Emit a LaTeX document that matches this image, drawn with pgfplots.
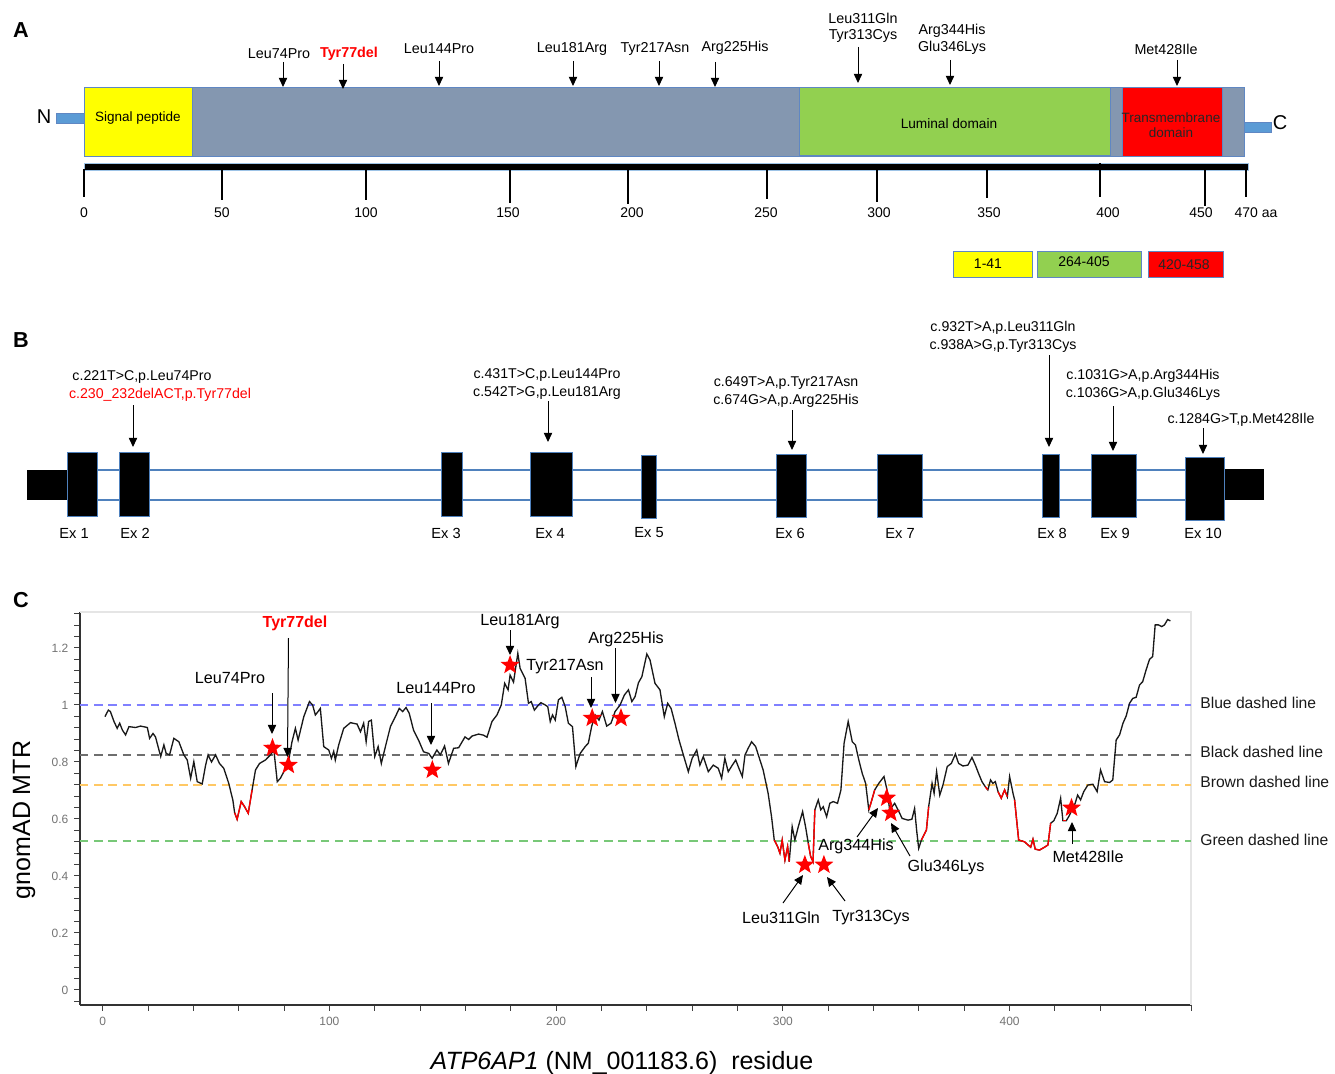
\documentclass[border=0pt]{standalone}
\usepackage{fontspec}
\setmainfont{Liberation Sans}
\usepackage{pgfplots}
\pgfplotsset{compat=1.18}
\usepackage{pgfplotstable}
\usetikzlibrary{arrows.meta}

\definecolor{protgray}{RGB}{132,151,176}
\definecolor{protedge}{RGB}{95,135,195}
\definecolor{tailblue}{RGB}{91,155,213}
\definecolor{sigyellow}{RGB}{255,255,0}
\definecolor{lumgreen}{RGB}{146,208,80}
\definecolor{tmred}{RGB}{255,0,0}
\definecolor{intronblue}{RGB}{79,129,189}
\definecolor{dblue}{RGB}{128,128,255}
\definecolor{dblack}{RGB}{110,110,110}
\definecolor{dbrown}{RGB}{255,200,100}
\definecolor{dgreen}{RGB}{120,200,120}

\pgfdeclareplotmark{fstar}{%
  \pgfpathmoveto{\pgfpointpolar{90}{\pgfplotmarksize}}%
  \pgfpathlineto{\pgfpointpolar{126}{0.42\pgfplotmarksize}}%
  \pgfpathlineto{\pgfpointpolar{162}{\pgfplotmarksize}}%
  \pgfpathlineto{\pgfpointpolar{198}{0.42\pgfplotmarksize}}%
  \pgfpathlineto{\pgfpointpolar{234}{\pgfplotmarksize}}%
  \pgfpathlineto{\pgfpointpolar{270}{0.42\pgfplotmarksize}}%
  \pgfpathlineto{\pgfpointpolar{306}{\pgfplotmarksize}}%
  \pgfpathlineto{\pgfpointpolar{342}{0.42\pgfplotmarksize}}%
  \pgfpathlineto{\pgfpointpolar{18}{\pgfplotmarksize}}%
  \pgfpathlineto{\pgfpointpolar{54}{0.42\pgfplotmarksize}}%
  \pgfpathclose
  \pgfusepathqfill}

\newcommand{\fs}[1]{\fontsize{#1}{#1}\selectfont}
\tikzset{arr/.style={-{Triangle[length=5.5pt,width=5pt]}, line width=0.6pt}}

\pgfplotstableread{
x y
1.0 0.959
2.5 0.982
3.4 0.977
5.0 0.942
6.4 0.918
7.5 0.936
8.7 0.912
10.1 0.895
11.6 0.924
14.5 0.921
16.7 0.926
19.7 0.921
20.7 0.883
22.2 0.900
23.3 0.888
25.6 0.819
27.0 0.860
28.0 0.830
29.5 0.825
31.4 0.883
33.6 0.871
35.8 0.825
37.3 0.807
38.8 0.743
40.2 0.801
41.7 0.731
43.9 0.723
45.4 0.789
46.5 0.825
48.0 0.800
49.8 0.825
51.5 0.795
53.4 0.778
55.6 0.725
57.4 0.667
58.2 0.622
59.3 0.599
61.1 0.661
62.6 0.643
64.2 0.620
65.9 0.702
67.4 0.772
69.2 0.795
71.8 0.807
74.0 0.825
75.5 0.842
77.0 0.731
78.4 0.743
79.9 0.766
81.8 0.795
83.5 0.871
85.0 0.918
86.2 0.877
88.7 0.959
91.2 1.012
92.6 1.000
93.8 0.965
95.0 0.977
96.0 0.988
97.5 0.854
99.7 0.842
100.9 0.813
101.9 0.837
102.6 0.807
104.1 0.860
106.3 0.918
109.3 0.938
112.2 0.933
113.7 0.906
115.1 0.936
116.2 0.871
117.3 0.942
118.5 0.947
120.0 0.819
121.5 0.854
122.9 0.795
124.7 0.854
126.9 0.924
129.1 0.959
130.8 0.988
132.3 0.977
133.8 0.991
135.2 0.971
137.1 0.912
139.3 0.877
141.5 0.836
143.8 0.830
145.3 0.813
147.4 0.842
148.9 0.825
150.8 0.856
152.5 0.795
154.8 0.848
157.0 0.850
159.8 0.888
161.4 0.879
162.9 0.891
165.8 0.898
168.0 0.894
169.5 0.887
171.7 0.942
173.9 0.965
175.8 1.000
177.3 1.076
178.8 1.053
179.7 1.105
181.2 1.080
183.1 1.181
184.1 1.129
186.3 1.094
187.8 1.006
189.0 1.012
190.4 0.982
192.2 1.000
193.3 1.008
195.2 1.000
196.3 0.994
197.4 0.942
198.4 0.965
199.6 0.947
201.0 1.018
202.5 1.027
204.0 0.994
205.4 0.936
207.2 0.924
208.7 0.784
210.6 0.830
212.8 0.854
214.2 0.866
215.7 0.926
217.2 0.965
218.9 0.947
220.4 0.977
222.3 0.926
224.2 0.936
226.0 0.977
228.2 1.000
230.1 1.035
231.9 1.053
233.4 1.012
234.8 1.029
236.3 1.078
237.8 1.099
240.0 1.179
241.4 1.158
243.6 1.076
245.8 1.053
247.7 0.959
249.2 1.006
250.7 0.988
252.4 0.936
254.2 0.877
256.1 0.825
258.3 0.766
260.0 0.813
262.0 0.842
263.4 0.789
264.9 0.819
267.1 0.766
269.3 0.789
271.5 0.778
273.0 0.743
274.4 0.813
275.9 0.766
277.7 0.789
279.2 0.807
280.6 0.778
282.1 0.749
283.3 0.825
284.7 0.848
286.2 0.871
288.0 0.854
289.4 0.819
291.3 0.772
293.5 0.690
295.0 0.608
296.2 0.526
297.7 0.503
298.7 0.480
299.7 0.526
300.9 0.456
302.1 0.503
302.8 0.450
304.1 0.573
305.3 0.526
306.8 0.573
308.7 0.626
310.0 0.573
311.2 0.515
312.2 0.470
313.3 0.450
314.1 0.632
315.6 0.667
316.7 0.632
317.8 0.643
319.3 0.608
320.7 0.655
322.2 0.661
324.1 0.655
325.6 0.702
327.0 0.866
328.8 0.942
330.6 0.871
332.0 0.860
333.5 0.807
335.0 0.760
336.5 0.725
337.9 0.632
338.8 0.655
340.5 0.702
342.3 0.725
344.6 0.749
346.0 0.700
347.1 0.632
349.3 0.655
350.8 0.632
352.6 0.602
355.2 0.596
356.9 0.599
358.1 0.637
359.0 0.560
359.9 0.497
361.1 0.526
363.3 0.561
364.3 0.643
365.8 0.725
366.7 0.690
367.8 0.766
369.2 0.684
370.6 0.719
372.5 0.784
374.3 0.795
376.1 0.828
377.5 0.795
379.4 0.786
381.6 0.789
383.4 0.816
384.9 0.789
386.3 0.760
387.8 0.731
389.3 0.713
390.4 0.702
391.6 0.737
392.6 0.725
393.7 0.731
394.9 0.696
396.3 0.673
397.8 0.702
399.0 0.678
400.0 0.749
401.5 0.690
402.2 0.667
404.0 0.526
406.6 0.520
408.1 0.509
409.3 0.501
410.3 0.529
411.3 0.494
413.2 0.491
415.4 0.501
416.9 0.509
418.1 0.585
419.5 0.594
421.0 0.620
422.5 0.673
423.5 0.594
425.0 0.594
426.2 0.610
428.9 0.655
430.0 0.684
431.3 0.667
432.7 0.696
434.5 0.719
436.7 0.722
438.6 0.696
440.1 0.772
441.9 0.731
444.1 0.728
445.5 0.737
447.0 0.877
448.5 0.895
450.0 0.936
451.4 0.961
452.9 1.006
454.3 1.023
455.8 1.027
457.3 1.070
458.7 1.082
460.2 1.123
461.7 1.160
463.1 1.170
464.2 1.281
465.6 1.281
467.1 1.275
468.3 1.281
469.7 1.300
470.9 1.295
}\mtr

\pgfplotstableread{
x y
74.9 0.849
81.9 0.789
145.4 0.772
179.7 1.140
215.9 0.954
228.6 0.954
309.7 0.439
318.1 0.439
345.8 0.674
347.6 0.621
427.3 0.639
}\stars

\begin{document}
\begin{tikzpicture}[x=1pt,y=1pt]
\path[use as bounding box] (0,0) rectangle (801,644.4);

% ---------------- Panel C: MTR plot ----------------
\begin{axis}[
  at={(48pt,41.4pt)}, anchor=south west, scale only axis,
  width=666.6pt, height=235.8pt,
  xmin=-10, xmax=480, ymin=-0.0526, ymax=1.3263,
  axis x line*=bottom, axis y line*=left,
  axis line style={black!80, line width=0.7pt},
  xtick={0,100,200,300,400}, xticklabels={0,100,200,300,400},
  minor xtick={20,40,60,80,120,140,160,180,220,240,260,280,320,340,360,380,420,440,460,480},
  ytick={0,0.2,0.4,0.6,0.8,1,1.2}, yticklabels={0,0.2,0.4,0.6,0.8,1,1.2},
  minor ytick={-0.04,0.04,0.08,0.12,0.16,0.24,0.28,0.32,0.36,0.44,0.48,0.52,0.56,0.64,0.68,0.72,0.76,0.84,0.88,0.92,0.96,1.04,1.08,1.12,1.16,1.24,1.28,1.32},
  tick align=outside, major tick length=3.5pt, minor tick length=3.5pt,
  tick style={black!75, line width=0.6pt},
  tick label style={font=\fs{7.2}, text=black!55},
  /pgf/number format/assume math mode=true,
  clip=false,
]
\draw[black!10, line width=0.7pt] (rel axis cs:0,1) -- (rel axis cs:1,1) -- (rel axis cs:1,0);
\addplot[dblue, line width=0.9pt, dash pattern=on 5pt off 3.5pt] coordinates {(-10,1) (480,1)};
\addplot[dblack, line width=0.9pt, dash pattern=on 5pt off 3.5pt] coordinates {(-10,0.825) (480,0.825)};
\addplot[dbrown, line width=0.9pt, dash pattern=on 5pt off 3.5pt] coordinates {(-10,0.72) (480,0.72)};
\addplot[dgreen, line width=0.9pt, dash pattern=on 5pt off 3.5pt] coordinates {(-10,0.523) (480,0.523)};
\addplot[black!90, line width=0.8pt, no marks] table {\mtr};
\addplot[red, line width=0.8pt, no marks, restrict x to domain=57.8:66] table {\mtr};
\addplot[red, line width=0.8pt, no marks, restrict x to domain=296:303] table {\mtr};
\addplot[red, line width=0.8pt, no marks, restrict x to domain=311:314.5] table {\mtr};
\addplot[red, line width=0.8pt, no marks, restrict x to domain=337.5:341] table {\mtr};
\addplot[red, line width=0.8pt, no marks, restrict x to domain=360:364.5] table {\mtr};
\addplot[red, line width=0.8pt, no marks, restrict x to domain=389:391] table {\mtr};
\addplot[red, line width=0.8pt, no marks, restrict x to domain=394:399.5] table {\mtr};
\addplot[red, line width=0.8pt, no marks, restrict x to domain=402:418.2] table {\mtr};
\addplot[red, line width=0.8pt, no marks, restrict x to domain=423.3:426] table {\mtr};
\addplot[only marks, mark=fstar, mark size=6pt, mark options={fill=red, draw=none}, red] table {\stars};
\end{axis}

% ---------------- Overlay: panels A, B and annotations (pixel coordinates) ----------------
\begin{axis}[
  at={(0pt,0pt)}, anchor=south west, scale only axis,
  width=801pt, height=644.4pt,
  xmin=0, xmax=1335, ymin=0, ymax=1074, y dir=reverse,
  hide axis, clip=false,
]
% panel letters
\node[font=\fs{13}\bfseries] at (21,30) {A};
\node[font=\fs{13}\bfseries] at (21,340) {B};
\node[font=\fs{13}\bfseries] at (21,600) {C};

% ===== Panel A =====
\filldraw[fill=tailblue, draw=protedge, line width=0.4pt] (56,113) rectangle (84,123);
\filldraw[fill=protgray, draw=protedge, line width=0.6pt] (84,88) rectangle (1244,157);
\filldraw[fill=sigyellow, draw=protedge, line width=0.6pt] (84,88) rectangle (192,157);
\filldraw[fill=lumgreen, draw=protedge, line width=0.6pt] (799,88) rectangle (1110,156);
\filldraw[fill=tmred, draw=protedge, line width=0.6pt] (1122,88) rectangle (1222,157);
\filldraw[fill=tailblue, draw=protedge, line width=0.4pt] (1244,122) rectangle (1271,132);
\node[font=\fs{12}] at (44,117) {N};
\node[font=\fs{12}] at (1280,123) {C};
\node[font=\fs{8.1}] at (138,118) {Signal peptide};
\node[font=\fs{8.2}] at (949,124) {Luminal domain};
\node[font=\fs{8.1}, text=black!85] at (1171,118) {Transmembrane};
\node[font=\fs{8.1}, text=black!85] at (1171,133) {domain};

% ruler
\filldraw[fill=black, draw=tailblue!60, line width=0.5pt] (84,163) rectangle (1248,170);
\draw[black, line width=0.7pt] (84,169) -- (84,197);
\draw[black, line width=0.7pt] (222,169) -- (222,200);
\draw[black, line width=0.7pt] (366,169) -- (366,200);
\draw[black, line width=0.7pt] (510,169) -- (510,203);
\draw[black, line width=0.7pt] (628,169) -- (628,204);
\draw[black, line width=0.7pt] (767,169) -- (767,199);
\draw[black, line width=0.7pt] (877,169) -- (877,202);
\draw[black, line width=0.7pt] (987,169) -- (987,198);
\draw[black, line width=0.7pt] (1100,163) -- (1100,197);
\draw[black, line width=0.7pt] (1205,169) -- (1205,206);
\draw[black, line width=0.7pt] (1246,169) -- (1246,197);
\node[font=\fs{8.4}] at (84,213) {0};
\node[font=\fs{8.4}] at (222,213) {50};
\node[font=\fs{8.4}] at (366,213) {100};
\node[font=\fs{8.4}] at (508,213) {150};
\node[font=\fs{8.4}] at (632,213) {200};
\node[font=\fs{8.4}] at (766,213) {250};
\node[font=\fs{8.4}] at (879,213) {300};
\node[font=\fs{8.4}] at (989,213) {350};
\node[font=\fs{8.4}] at (1108,213) {400};
\node[font=\fs{8.4}] at (1201,213) {450};
\node[font=\fs{8.4}] at (1256,213) {470 aa};

% mutation labels A
\node[font=\fs{8.6}] at (279,54) {Leu74Pro};
\node[font=\fs{8.6}\bfseries, text=red] at (349,54) {Tyr77del};
\node[font=\fs{8.6}] at (439,49) {Leu144Pro};
\node[font=\fs{8.6}] at (572,49) {Leu181Arg};
\node[font=\fs{8.6}] at (655,49) {Tyr217Asn};
\node[font=\fs{8.6}] at (735,48) {Arg225His};
\node[font=\fs{8.6}] at (863,18) {Leu311Gln};
\node[font=\fs{8.6}] at (863,36) {Tyr313Cys};
\node[font=\fs{8.6}] at (952,31) {Arg344His};
\node[font=\fs{8.6}] at (952,48) {Glu346Lys};
\node[font=\fs{8.6}] at (1166,49) {Met428Ile};
\draw[arr] (283,62) -- (283,87);
\draw[arr] (343,64) -- (343,89);
\draw[arr] (439,61) -- (439,86);
\draw[arr] (573,61) -- (573,86);
\draw[arr] (659,61) -- (659,86);
\draw[arr] (715,62) -- (715,87);
\draw[arr] (858,47) -- (858,83);
\draw[arr] (950,60) -- (950,85);
\draw[arr] (1177,60) -- (1177,86);

% domain legend boxes
\filldraw[fill=sigyellow, draw=protedge, line width=0.6pt] (953,251) rectangle (1032,277);
\filldraw[fill=lumgreen, draw=protedge, line width=0.6pt] (1037,251) rectangle (1141,277);
\filldraw[fill=tmred, draw=protedge, line width=0.6pt] (1148,251) rectangle (1223,277);
\node[font=\fs{8.4}] at (988,264) {1-41};
\node[font=\fs{8.4}] at (1084,262) {264-405};
\node[font=\fs{8.4}, text=black!85] at (1184,265) {420-458};

% ===== Panel B =====
\draw[intronblue, line width=0.7pt] (97,470) -- (1185,470);
\draw[intronblue, line width=0.7pt] (97,500) -- (1185,500);
\fill[black] (27,470) rectangle (67,500);
\fill[black] (1224,469) rectangle (1264,500);
\filldraw[fill=black, draw=intronblue, line width=0.5pt] (67,452) rectangle (97,516);
\filldraw[fill=black, draw=intronblue, line width=0.5pt] (119,452) rectangle (149,516);
\filldraw[fill=black, draw=intronblue, line width=0.5pt] (441,452) rectangle (462,516);
\filldraw[fill=black, draw=intronblue, line width=0.5pt] (530,452) rectangle (572,516);
\filldraw[fill=black, draw=intronblue, line width=0.5pt] (641,455) rectangle (656,518);
\filldraw[fill=black, draw=intronblue, line width=0.5pt] (776,454) rectangle (806,517);
\filldraw[fill=black, draw=intronblue, line width=0.5pt] (877,454) rectangle (922,517);
\filldraw[fill=black, draw=intronblue, line width=0.5pt] (1042,454) rectangle (1059,517);
\filldraw[fill=black, draw=intronblue, line width=0.5pt] (1091,454) rectangle (1136,517);
\filldraw[fill=black, draw=intronblue, line width=0.5pt] (1185,457) rectangle (1224,520);
\node[font=\fs{8.8}] at (74,533) {Ex 1};
\node[font=\fs{8.8}] at (135,533) {Ex 2};
\node[font=\fs{8.8}] at (446,533) {Ex 3};
\node[font=\fs{8.8}] at (550,533) {Ex 4};
\node[font=\fs{8.8}] at (649,533) {Ex 5};
\node[font=\fs{8.8}] at (790,533) {Ex 6};
\node[font=\fs{8.8}] at (900,533) {Ex 7};
\node[font=\fs{8.8}] at (1052,533) {Ex 8};
\node[font=\fs{8.8}] at (1115,533) {Ex 9};
\node[font=\fs{8.8}] at (1203,533) {Ex 10};

\node[font=\fs{8.5}] at (142,377) {c.221T>C,p.Leu74Pro};
\node[font=\fs{8.5}, text=red] at (160,395) {c.230\_232delACT,p.Tyr77del};
\draw[arr] (133,405) -- (133,447);
\node[font=\fs{8.5}] at (547,375) {c.431T>C,p.Leu144Pro};
\node[font=\fs{8.5}] at (547,393) {c.542T>G,p.Leu181Arg};
\draw[arr] (548,401) -- (548,442);
\node[font=\fs{8.5}] at (786,383) {c.649T>A,p.Tyr217Asn};
\node[font=\fs{8.5}] at (786,401) {c.674G>A,p.Arg225His};
\draw[arr] (792,410) -- (792,450);
\node[font=\fs{8.5}] at (1003,328) {c.932T>A,p.Leu311Gln};
\node[font=\fs{8.5}] at (1003,346) {c.938A>G,p.Tyr313Cys};
\draw[arr] (1049,355) -- (1049,447);
\node[font=\fs{8.5}] at (1143,376) {c.1031G>A,p.Arg344His};
\node[font=\fs{8.5}] at (1143,394) {c.1036G>A,p.Glu346Lys};
\draw[arr] (1113,406) -- (1113,451);
\node[font=\fs{8.5}] at (1241,420) {c.1284G>T,p.Met428Ile};
\draw[arr] (1203,428) -- (1203,454);

% ===== Panel C annotations =====
\node[font=\fs{15}, rotate=90] at (24,820) {gnomAD MTR};
\node[font=\fs{15}, anchor=base] at (622,1069) {\textit{ATP6AP1} (NM\_001183.6)\ \ residue};

\node[font=\fs{9.4}, anchor=west, inner sep=0pt, text=black!90] at (1200,703) {Blue dashed line};
\node[font=\fs{9.4}, anchor=west, inner sep=0pt, text=black!90] at (1200,752) {Black dashed line};
\node[font=\fs{9.4}, anchor=west, inner sep=0pt, text=black!90] at (1200,782) {Brown dashed line};
\node[font=\fs{9.4}, anchor=west, inner sep=0pt, text=black!90] at (1200,840) {Green dashed line};

\node[font=\fs{9.6}\bfseries, text=red] at (295,623) {Tyr77del};
\draw[arr] (288.5,638) -- (287.5,757);
\node[font=\fs{9.7}] at (230,678) {Leu74Pro};
\draw[arr] (272,693) -- (272,734);
\node[font=\fs{9.7}] at (436,688) {Leu144Pro};
\draw[arr] (431,703) -- (431,745);
\node[font=\fs{9.7}] at (520,622) {Leu181Arg};
\draw[arr] (510,630) -- (510,655);
\node[font=\fs{9.7}] at (565,667) {Tyr217Asn};
\draw[arr] (591,677) -- (591,708);
\node[font=\fs{9.7}] at (626,639) {Arg225His};
\draw[arr] (615.5,648) -- (615.5,703);
\node[font=\fs{9.7}] at (856,846) {Arg344His};
\draw[arr] (857,837) -- (878,808);
\node[font=\fs{9.7}] at (946,867) {Glu346Lys};
\draw[arr] (910,856) -- (891,823);
\node[font=\fs{9.7}] at (781,918) {Leu311Gln};
\draw[arr] (783,903) -- (803,875);
\node[font=\fs{9.7}] at (871,918) {Tyr313Cys};
\draw[arr] (845,901) -- (827,877);
\node[font=\fs{9.7}] at (1088,857) {Met428Ile};
\draw[arr] (1072,844) -- (1072,822);
\end{axis}
\end{tikzpicture}
\end{document}
